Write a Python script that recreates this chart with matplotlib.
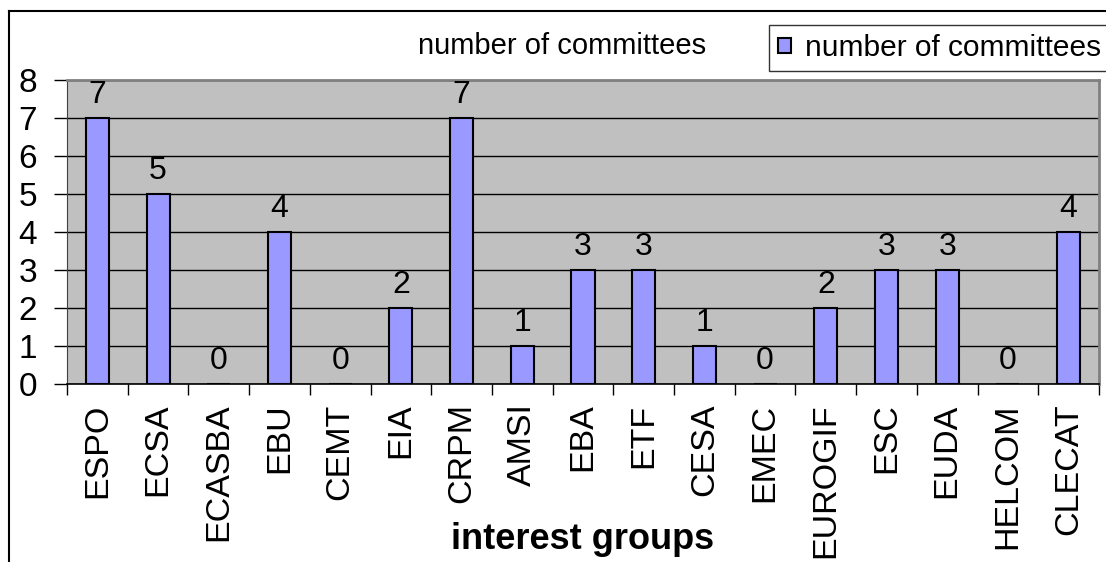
import matplotlib
matplotlib.use("Agg")
import matplotlib.pyplot as plt
from matplotlib.lines import Line2D
from matplotlib.patches import Patch

categories = ["ESPO", "ECSA", "ECASBA", "EBU", "CEMT", "EIA", "CRPM", "AMSI", "EBA",
              "ETF", "CESA", "EMEC", "EUROGIF", "ESC", "EUDA", "HELCOM", "CLECAT"]
values = [7, 5, 0, 4, 0, 2, 7, 1, 3, 3, 1, 0, 2, 3, 3, 0, 4]
y_ticks = [0, 1, 2, 3, 4, 5, 6, 7, 8]

plt.rcParams['font.family'] = ['Liberation Sans', 'DejaVu Sans']

W, H = 1106, 562
fig = plt.figure(figsize=(W / 100, H / 100), dpi=100)

# plot area pixel box
left, right, top, bottom = 67, 1099, 80, 384
ax = fig.add_axes([left / W, 1 - bottom / H, (right - left) / W, (bottom - top) / H])
ax.set_facecolor("#C0C0C0")

x = list(range(len(categories)))
ax.bar(x, values, width=0.38, color="#9999FF", edgecolor="black", linewidth=1.5, zorder=3)
for xi, v in zip(x, values):
    ax.text(xi, v + 0.2, str(v), ha="center", va="bottom", fontsize=23, zorder=4)

ax.set_xlim(-0.5, len(categories) - 0.5)
ax.set_ylim(0, 8)
ax.set_yticks(y_ticks)
ax.set_yticklabels([str(t) for t in y_ticks], fontsize=24)
ax.yaxis.grid(True, color="black", linewidth=1, zorder=1)
ax.set_axisbelow(True)

# category ticks at boundaries
ax.set_xticks([i - 0.5 for i in range(len(categories) + 1)])
ax.set_xticklabels([])
ax.set_xticks(x, minor=True)
ax.set_xticklabels(categories, minor=True, rotation=90, fontsize=24.5, va="top", ha="center")
ax.tick_params(axis="x", which="minor", length=0, pad=14)
ax.tick_params(axis="x", which="major", length=8, width=1, direction="out")
ax.tick_params(axis="y", length=9.5, width=1, direction="out", pad=12)

for s in ["top", "right"]:
    ax.spines[s].set_color("#808080")
    ax.spines[s].set_linewidth(2)
ax.spines["left"].set_color("#404040")
ax.spines["bottom"].set_color("black")
ax.spines["bottom"].set_linewidth(1.2)

ax.set_xlabel("interest groups", fontsize=26, fontweight="bold")
ax.xaxis.set_label_coords(0.5, -0.455)

# title
fig.text(562 / W, 1 - 46 / H, "number of committees", fontsize=21, ha="center", va="center")

# legend
leg = fig.legend(handles=[Patch(facecolor="#9999FF", edgecolor="black", linewidth=1.5,
                                label="number of committees")],
                 loc="upper left", bbox_to_anchor=(769 / W, 1 - 25 / H),
                 fontsize=21.5, frameon=True, fancybox=False, handlelength=0.45,
                 handleheight=0.4, handletextpad=0.45, borderpad=0.3, borderaxespad=0)
leg.get_frame().set_edgecolor("black")
leg.get_frame().set_linewidth(1)

# outer chart frame
fig.add_artist(Line2D([9 / W, 1], [1 - 11 / H, 1 - 11 / H], color="black", linewidth=1.5,
                      transform=fig.transFigure))
fig.add_artist(Line2D([9 / W, 9 / W], [0, 1 - 11 / H], color="black", linewidth=1.5,
                      transform=fig.transFigure))

fig.savefig("out.png", dpi=100)
